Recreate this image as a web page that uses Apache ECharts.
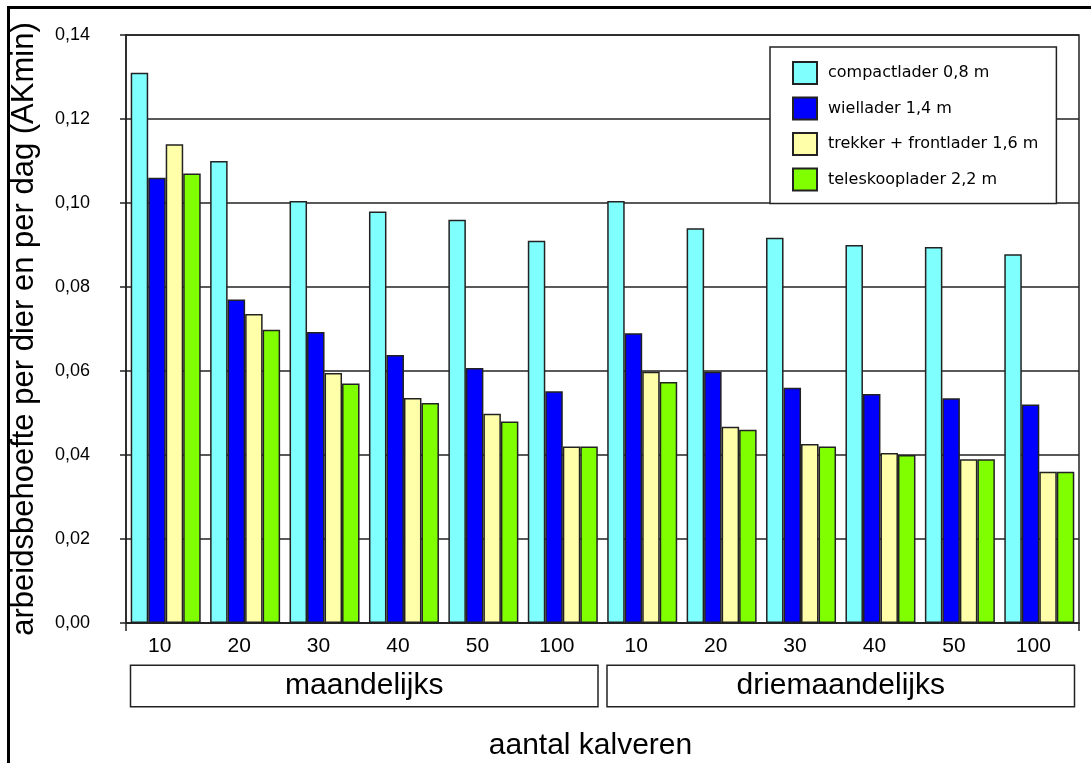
<!DOCTYPE html>
<html>
<head>
<meta charset="utf-8">
<script src="https://cdn.jsdelivr.net/npm/echarts@6/dist/echarts.min.js"></script>
<style>
html,body{margin:0;padding:0;background:#fff;}
#chart{width:1091px;height:763px;}
</style>
</head>
<body>
<div id="chart"></div>
<script>
const categories = ['10','20','30','40','50','100','10','20','30','40','50','100'];
const groups = ['maandelijks','driemaandelijks'];
const seriesNames = ['compactlader 0,8 m','wiellader 1,4 m','trekker + frontlader 1,6 m','teleskooplader 2,2 m'];
const compactlader = [0.131, 0.110, 0.1005, 0.098, 0.096, 0.091, 0.1005, 0.094, 0.0917, 0.090, 0.0895, 0.0878];
const wiellader    = [0.106, 0.077, 0.0693, 0.0638, 0.0607, 0.0552, 0.069, 0.0598, 0.056, 0.0545, 0.0535, 0.052];
const trekker      = [0.114, 0.0736, 0.0595, 0.0536, 0.0498, 0.042, 0.0598, 0.0467, 0.0426, 0.0405, 0.039, 0.036];
const telescoop    = [0.107, 0.0698, 0.057, 0.0524, 0.048, 0.042, 0.0574, 0.046, 0.042, 0.040, 0.039, 0.036];
const yTicks = [0, 0.02, 0.04, 0.06, 0.08, 0.10, 0.12, 0.14];

const colors = ['#80FFFF', '#0000FF', '#FFFFAA', '#80FF00'];
const values = [compactlader, wiellader, trekker, telescoop];

const chart = echarts.init(document.getElementById('chart'), null, {renderer: 'canvas'});
const dark = '#222';
chart.setOption({
  animation: false,
  backgroundColor: '#fff',
  textStyle: {fontFamily: "'Liberation Sans', Arial, sans-serif", color: '#000'},
  graphic: [{
    type: 'rect', left: 6, top: 5, silent: true,
    shape: {x: 0, y: 0, width: 1100, height: 800},
    style: {fill: 'none', stroke: '#000', lineWidth: 3}
  }],
  grid: {left: 126, top: 35, right: 12, bottom: 140, show: true, borderColor: dark, borderWidth: 1.5,
    backgroundColor: 'transparent', outerBoundsMode: 'none', containLabel: false},
  legend: {
    left: 770, top: 47, orient: 'vertical',
    itemWidth: 24, itemHeight: 22, itemGap: 11.5,
    padding: [14, 18, 12, 22],
    backgroundColor: '#fff', borderColor: dark, borderWidth: 1.5,
    icon: 'rect',
    textStyle: {fontFamily: "'DejaVu Sans', sans-serif", fontSize: 16, color: '#000', padding: [0, 0, 0, 6]},
    data: seriesNames
  },
  xAxis: [{
    type: 'category', data: categories, gridIndex: 0,
    axisLine: {lineStyle: {color: dark, width: 1.5}},
    axisTick: {show: true, length: 8, interval: function (i) { return i === 0; }, lineStyle: {color: dark, width: 1.5}},
    axisLabel: {interval: 0, margin: 13, fontSize: 21, color: '#000',
      fontFamily: "'Liberation Sans Narrow', 'Liberation Sans', Arial, sans-serif", padding: [0, 12, 0, 0]},
    name: 'aantal kalveren', nameLocation: 'middle', nameGap: 108,
    nameTextStyle: {fontSize: 30, color: '#000', padding: [0, 24, 0, 0]}
  }, {
    type: 'category', data: groups, gridIndex: 0, position: 'bottom',
    axisLine: {show: false}, axisTick: {show: false},
    axisLabel: {interval: 0, margin: 43, fontSize: 30, color: '#000',
      width: 466, height: 40, lineHeight: 40, align: 'center',
      backgroundColor: '#fff', borderColor: dark, borderWidth: 1.5}
  }],
  yAxis: {
    type: 'value', min: 0, max: 0.14, interval: 0.02,
    axisLine: {show: true, lineStyle: {color: dark, width: 1.5}},
    axisTick: {show: true, length: 6, inside: false, lineStyle: {color: dark, width: 1.5}},
    splitLine: {show: true, lineStyle: {color: dark, width: 1.5}},
    axisLabel: {margin: 36, fontSize: 18, color: '#000',
      formatter: function (v) { return v.toFixed(2).replace('.', ','); }},
    name: 'arbeidsbehoefte per dier en per dag (AKmin)', nameLocation: 'middle', nameGap: 86,
    nameTextStyle: {fontSize: 31, color: '#000'}
  },
  series: values.map(function (arr, i) {
    return {
      name: seriesNames[i], type: 'bar', xAxisIndex: 0, data: arr,
      barWidth: 17.5, barGap: '0%',
      itemStyle: {color: colors[i], borderColor: dark, borderWidth: 1.5}
    };
  })
});
</script>
</body>
</html>
